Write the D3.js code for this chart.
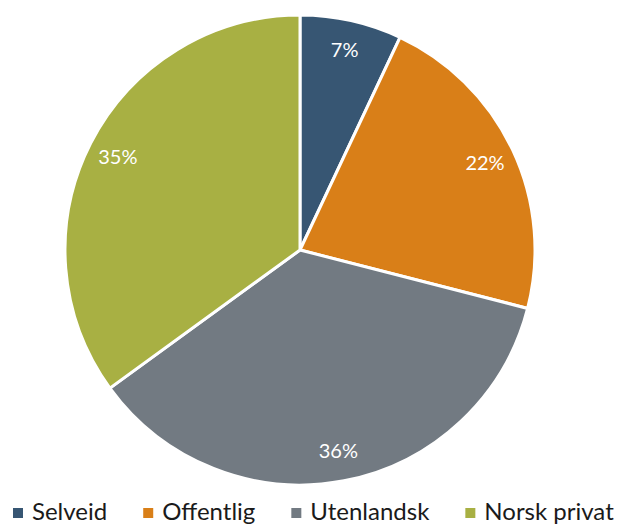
<!DOCTYPE html>
<html>
<head>
<meta charset="utf-8">
<script src="https://cdn.jsdelivr.net/npm/d3@7"></script>
<style>
  body { margin: 0; background: #fff; }
  text { font-family: Lato, "Open Sans", sans-serif; }
</style>
</head>
<body>
<div id="chart"></div>
<script>
// ===== data =====
var categories = ["Selveid", "Offentlig", "Utenlandsk", "Norsk privat"]
var shares = [7, 22, 36, 35]
var colors = ["#375673", "#d97f18", "#727a82", "#a8b043"]

var width = 622, height = 525
var cx = 300, cy = 250, radius = 235

var svg = d3.select("#chart")
    .append("svg")
    .attr("width", width)
    .attr("height", height)

var g = svg.append("g")
    .attr("transform", "translate(" + cx + "," + cy + ")")

var pie = d3.pie()
    .sort(null)
    .value(function(d){ return d })

var pieData = pie(shares)

var arc = d3.arc()
    .innerRadius(0)
    .outerRadius(radius)

// percentage labels sit a bit inside the rim
var labelArc = d3.arc()
    .innerRadius(radius * 0.87)
    .outerRadius(radius * 0.87)

g.selectAll("path")
    .data(pieData)
    .enter()
    .append("path")
    .attr("d", arc)
    .attr("fill", function(d){ return colors[d.index] })
    .attr("stroke", "white")
    .style("stroke-width", "3px")

g.selectAll("text.pct")
    .data(pieData)
    .enter()
    .append("text")
    .attr("class", "pct")
    .attr("transform", function(d){
        var c = labelArc.centroid(d)
        return "translate(" + c[0] + "," + (c[1] + 7) + ")"
    })
    .attr("text-anchor", "middle")
    .attr("font-size", "20px")
    .attr("fill", "white")
    .text(function(d){ return d.value + "%" })

// legend along the bottom
var legend = svg.append("g")
    .attr("transform", "translate(13,508)")

var x = 0
categories.forEach(function(name, i){
    var item = legend.append("g").attr("transform", "translate(" + x + ",0)")
    item.append("rect")
        .attr("x", 0)
        .attr("y", 0)
        .attr("width", 10)
        .attr("height", 10)
        .attr("fill", colors[i])
    var t = item.append("text")
        .attr("x", 19)
        .attr("y", 12)
        .attr("font-size", "24px")
        .attr("fill", "#1a1a1a")
        .text(name)
    x += 19 + t.node().getComputedTextLength() + 36
})
</script>
</body>
</html>
